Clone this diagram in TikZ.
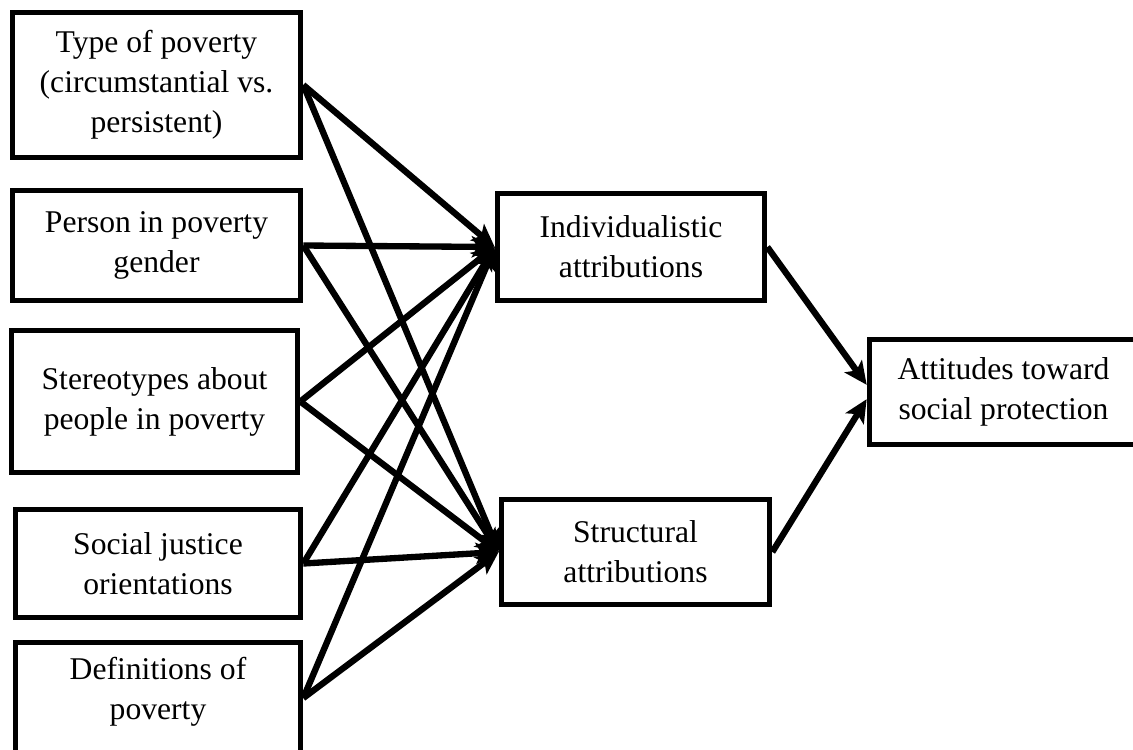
\documentclass[tikz,border=0pt]{standalone}
\usepackage{fontspec}
\setmainfont{Liberation Serif}
\usepackage{tikz}
\usetikzlibrary{positioning,arrows.meta}

\begin{document}
\begin{tikzpicture}[line width=3.2pt,
		box/.style={draw,align=center,font=\fontsize{18}{22.7}\selectfont,inner sep=0pt},
		link/.style={-{Stealth[length=13pt,width=12pt,inset=3pt]},line width=3.6pt}]
	\useasboundingbox (0,0) rectangle (22.66,-14.98);
	\clip (0,0) rectangle (22.66,-14.98);
	% left column
	\node[box,minimum width=5.76cm,minimum height=2.9cm] (type) at (3.13,-1.70) {Type of poverty\\(circumstantial vs.\\persistent)};
	\node[box,minimum width=5.76cm,minimum height=2.2cm] (person) at (3.13,-4.91) {Person in poverty\\gender};
	\node[box,minimum width=5.72cm,minimum height=2.84cm] (stereo) at (3.09,-8.03) {Stereotypes about\\people in poverty};
	\node[box,minimum width=5.70cm,minimum height=2.16cm] (justice) at (3.16,-11.27) {Social justice\\orientations};
	\node[box,minimum width=5.70cm,minimum height=2.22cm] (defs) at (3.16,-13.96) {Definitions of\\poverty\\[-0.4cm]};
	% attributions
	\node[box,minimum width=5.34cm,minimum height=2.14cm] (indiv) at (12.62,-4.94) {Individualistic\\attributions};
	\node[box,minimum width=5.36cm,minimum height=2.10cm] (struct) at (12.71,-11.04) {Structural\\attributions};
	% outcome
	\node[box,minimum width=5.36cm,minimum height=2.10cm] (attit) at (20.07,-7.84) {Attitudes toward\\social protection};

	\draw[link] (type.east) -- (indiv.west);
	\draw[link] (type.east) -- (struct.west);
	\draw[link] (person.east) -- (indiv.west);
	\draw[link] (person.east) -- (struct.west);
	\draw[link] (stereo.east) -- (indiv.west);
	\draw[link] (stereo.east) -- (struct.west);
	\draw[link] (justice.east) -- (indiv.west);
	\draw[link] (justice.east) -- (struct.west);
	\draw[link] (defs.east) -- (indiv.west);
	\draw[link] (defs.east) -- (struct.west);
	\draw[link] (indiv.east) -- (attit.177);
	\draw[link] (struct.east) -- (attit.183);
\end{tikzpicture}
\end{document}
